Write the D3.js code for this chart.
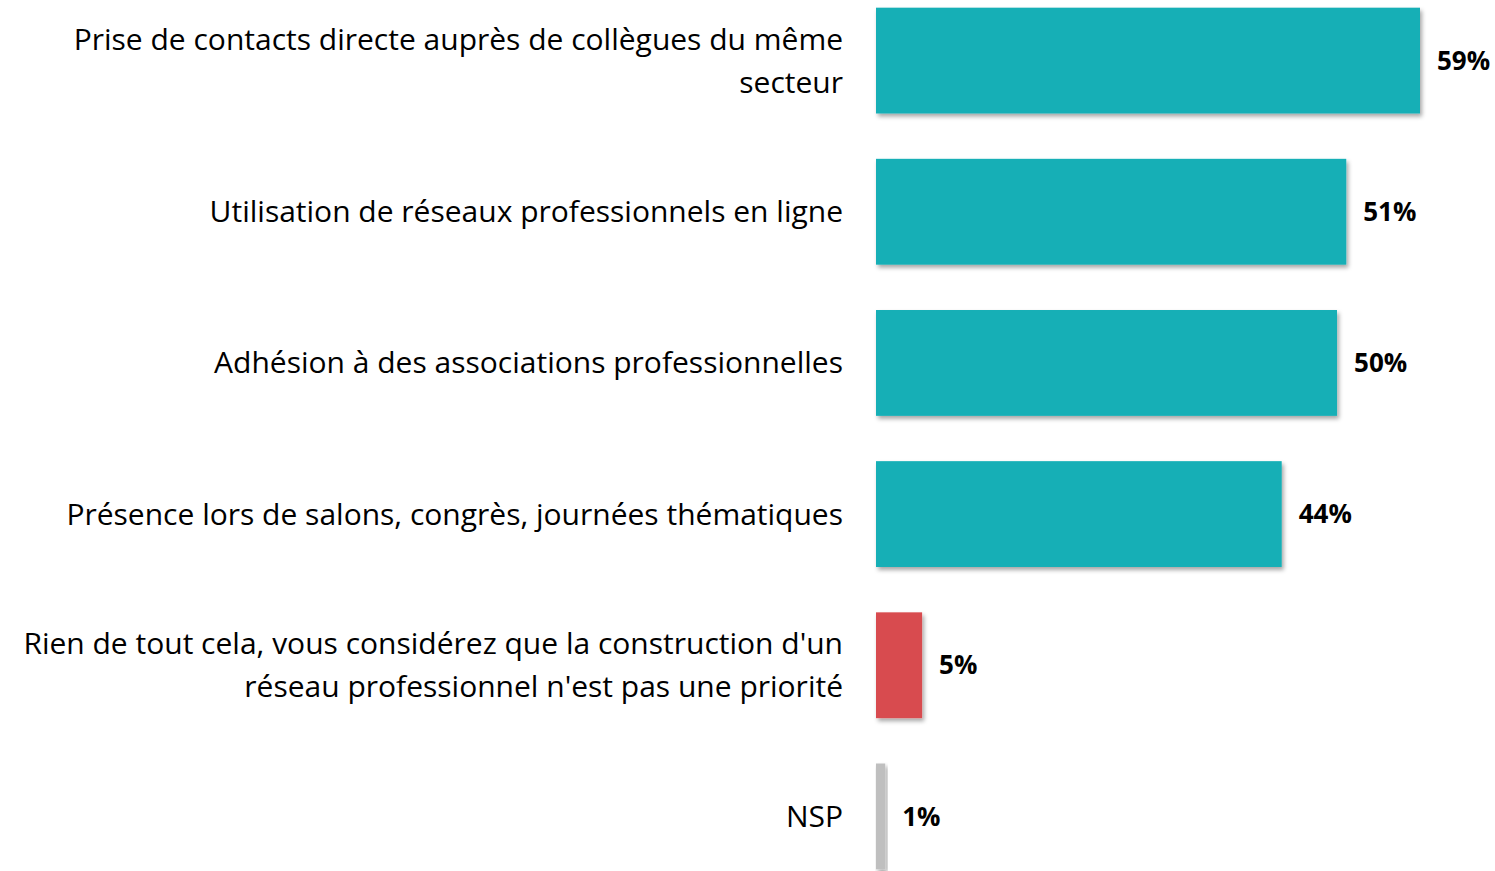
<!DOCTYPE html>
<html>
<head>
<meta charset="utf-8">
<script src="https://cdn.jsdelivr.net/npm/d3@7"></script>
<style>
  body { margin: 0; background: #fff; }
  svg { display: block; }
</style>
</head>
<body>
<div id="chart"></div>
<script>
// categories (line breaks as in the original)
const categories = [
  "Prise de contacts directe auprès de collègues du même\nsecteur",
  "Utilisation de réseaux professionnels en ligne",
  "Adhésion à des associations professionnelles",
  "Présence lors de salons, congrès, journées thématiques",
  "Rien de tout cela, vous considérez que la construction d'un\nréseau professionnel n'est pas une priorité",
  "NSP"
];
const values = [59, 51, 50, 44, 5, 1];
const colors = ["#13AFB6", "#13AFB6", "#13AFB6", "#13AFB6", "#D84B4F", "#BFBFBF"];

const width = 1495, height = 871;

const svg = d3.select("#chart")
  .append("svg")
  .attr("width", width)
  .attr("height", height);

// soft shadow under each bar
const filter = svg.append("defs").append("filter")
  .attr("id", "shadow")
  .attr("x", "-10%").attr("y", "-10%")
  .attr("width", "130%").attr("height", "130%");
filter.append("feDropShadow")
  .attr("dx", 2).attr("dy", 3)
  .attr("stdDeviation", 2)
  .attr("flood-color", "#000")
  .attr("flood-opacity", 0.35);

const x = d3.scaleLinear()
  .domain([0, 59])
  .range([876, 1420]);

const y = d3.scaleBand()
  .domain(categories)
  .range([-15, 892])
  .paddingInner(0.3)
  .paddingOuter(0.15);

// bars
svg.selectAll("rect.bar")
  .data(values)
  .enter()
  .append("rect")
  .attr("class", "bar")
  .attr("x", x(0))
  .attr("y", (d, i) => y(categories[i]))
  .attr("width", d => x(d) - x(0))
  .attr("height", y.bandwidth())
  .attr("fill", (d, i) => colors[i])
  .attr("filter", "url(#shadow)");

// value labels
svg.selectAll("text.value")
  .data(values)
  .enter()
  .append("text")
  .attr("class", "value")
  .text(d => d + "%")
  .attr("x", d => x(d) + 17)
  .attr("y", (d, i) => y(categories[i]) + y.bandwidth() / 2)
  .attr("dy", "0.35em")
  .attr("font-family", "'Open Sans', sans-serif")
  .attr("font-weight", "bold")
  .attr("font-size", "26px")
  .attr("fill", "#000");

// category labels, right aligned
const lineH = 43;
const labels = svg.selectAll("text.cat")
  .data(categories)
  .enter()
  .append("text")
  .attr("class", "cat")
  .attr("text-anchor", "end")
  .attr("font-family", "'Open Sans', sans-serif")
  .attr("font-size", "30px")
  .attr("fill", "#000");

labels.each(function(d) {
  const lines = d.split("\n");
  const cy = y(d) + y.bandwidth() / 2;
  const top = cy - (lines.length - 1) * lineH / 2;
  d3.select(this).selectAll("tspan")
    .data(lines)
    .enter()
    .append("tspan")
    .attr("x", 843)
    .attr("y", (l, j) => top + j * lineH)
    .attr("dy", "0.35em")
    .text(l => l);
});
</script>
</body>
</html>
